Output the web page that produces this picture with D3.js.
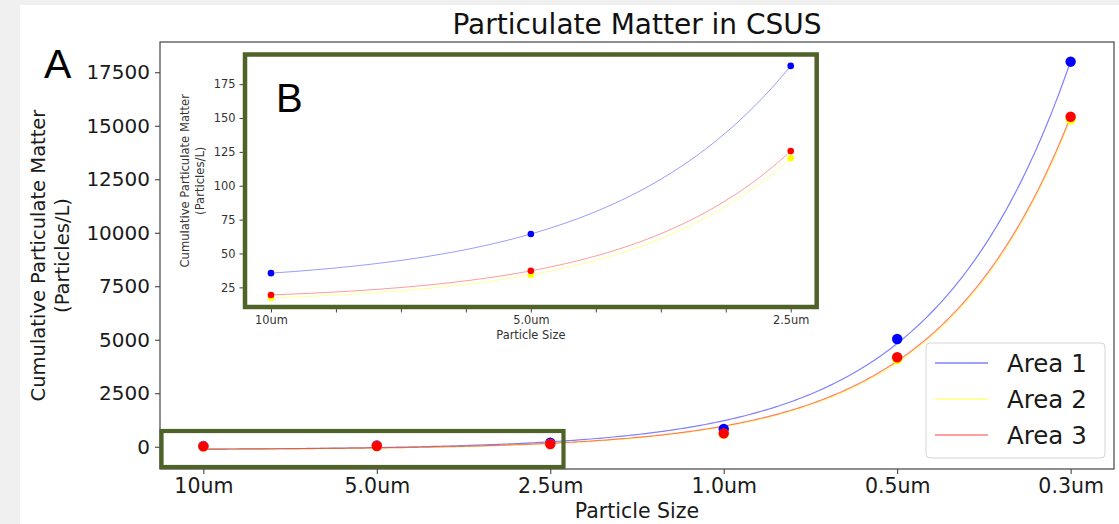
<!DOCTYPE html>
<html>
<head>
<meta charset="utf-8">
<script src="https://cdn.jsdelivr.net/npm/d3@7"></script>
<style>
  html, body { margin: 0; padding: 0; background: #f0f0f0; }
  svg { display: block; font-family: "DejaVu Sans", sans-serif; }
</style>
</head>
<body>
<svg id="chart" width="1119" height="524"></svg>
<script>
// Particle size bins (largest to smallest)
const categories = ["10um", "5.0um", "2.5um", "1.0um", "0.5um", "0.3um"];
// Cumulative particle counts per litre for each sampled area
const area1 = [35.5, 64.4, 188.5, 827, 5034, 17995];
const area2 = [17.2, 34.3, 120.4, 600, 4100, 15300];
const area3 = [19.4, 37.2, 125.6, 626, 4180, 15420];
const seriesNames = ["Area 1", "Area 2", "Area 3"];
const mainYTicks = [0, 2500, 5000, 7500, 10000, 12500, 15000, 17500];
const insetYTicks = [25, 50, 75, 100, 125, 150, 175];
const insetCount = 3; // zoomed view covers the three largest bins

const seriesColors = ["#0000ff", "#ffff00", "#ff0000"];
const seriesData = [area1, area2, area3];

// Least-squares fit of y = a*exp(b*x) + c
function fitExp(ys) {
  const xs = ys.map((_, i) => i);
  let best = null;
  for (let b = 0.2; b <= 3; b += 0.0005) {
    const E = xs.map(x => Math.exp(b * x));
    const mE = d3.mean(E), mY = d3.mean(ys);
    let sxy = 0, sxx = 0;
    for (let i = 0; i < xs.length; i++) {
      sxy += (E[i] - mE) * (ys[i] - mY);
      sxx += (E[i] - mE) * (E[i] - mE);
    }
    const a = sxy / sxx, c = mY - a * mE;
    let sse = 0;
    for (let i = 0; i < xs.length; i++) sse += (a * E[i] + c - ys[i]) ** 2;
    if (!best || sse < best.sse) best = { a, b, c, sse };
  }
  return x => best.a * Math.exp(best.b * x) + best.c;
}

function curvePoints(f, n) {
  return d3.range(0, 301).map(k => {
    const x = k / 300 * (n - 1);
    return [x, f(x)];
  });
}

const svg = d3.select("#chart");

// page panel
svg.append("rect").attr("x", 0).attr("y", 0).attr("width", 1119).attr("height", 524).attr("fill", "#f0f0f0");
svg.append("rect").attr("x", 20).attr("y", 5).attr("width", 1099).attr("height", 519).attr("fill", "#ffffff");

// ---------- main axes ----------
const M = { left: 160, right: 1114, top: 42, bottom: 469 };
const x = d3.scaleLinear().domain([-0.25, 5.25]).range([M.left, M.right]);
const y = d3.scaleLinear().domain([-1040, 18915]).range([M.bottom, M.top]);

const gMain = svg.append("g");

const yAxis = d3.axisLeft(y).tickValues(mainYTicks).tickSize(5).tickSizeOuter(0).tickPadding(5)
  .tickFormat(d3.format("d"));
const gy = gMain.append("g").attr("transform", `translate(${M.left},0)`).call(yAxis);
gy.select(".domain").remove();
gy.selectAll("text").attr("font-size", "20px").attr("fill", "#1a1a1a").attr("font-family", "DejaVu Sans");
gy.selectAll("line").attr("stroke", "#333");

const xAxis = d3.axisBottom(x).tickValues(d3.range(categories.length)).tickSize(5).tickSizeOuter(0).tickPadding(4)
  .tickFormat(i => categories[i]);
const gx = gMain.append("g").attr("transform", `translate(0,${M.bottom})`).call(xAxis);
gx.select(".domain").remove();
gx.selectAll("text").attr("font-size", "20.5px").attr("fill", "#1a1a1a").attr("font-family", "DejaVu Sans");
gx.selectAll("line").attr("stroke", "#333");

// fitted curves
const line = d3.line().x(d => x(d[0])).y(d => y(d[1]));
seriesData.forEach((vals, s) => {
  const f = fitExp(vals);
  gMain.append("path").datum(curvePoints(f, vals.length))
    .attr("d", line).attr("fill", "none")
    .attr("stroke", seriesColors[s]).attr("stroke-opacity", 0.5).attr("stroke-width", 1.2);
});
// measured points
seriesData.forEach((vals, s) => {
  gMain.append("g").selectAll("circle").data(vals).join("circle")
    .attr("cx", (d, i) => x(i)).attr("cy", d => y(d)).attr("r", 5.2)
    .attr("fill", seriesColors[s]);
});

// spines
gMain.append("rect").attr("x", M.left).attr("y", M.top)
  .attr("width", M.right - M.left).attr("height", M.bottom - M.top)
  .attr("fill", "none").attr("stroke", "#444").attr("stroke-width", 1.2);

// title and labels
svg.append("text").attr("x", (M.left + M.right) / 2).attr("y", 34).attr("text-anchor", "middle")
  .attr("font-size", "28px").attr("fill", "#111").text("Particulate Matter in CSUS");
svg.append("text").attr("x", (M.left + M.right) / 2).attr("y", 518).attr("text-anchor", "middle")
  .attr("font-size", "20.5px").attr("fill", "#1a1a1a").text("Particle Size");
const yl = svg.append("text").attr("transform", `translate(45,${(M.top + M.bottom) / 2}) rotate(-90)`)
  .attr("text-anchor", "middle").attr("font-size", "19.5px").attr("fill", "#1a1a1a");
yl.append("tspan").attr("x", 0).attr("y", 0).text("Cumulative Particulate Matter");
yl.append("tspan").attr("x", 0).attr("y", 23.5).text("(Particles/L)");

// legend
const lg = svg.append("g");
lg.append("rect").attr("x", 926).attr("y", 343).attr("width", 179).attr("height", 115).attr("rx", 4)
  .attr("fill", "#fff").attr("fill-opacity", 0.85).attr("stroke", "#d5d5d5").attr("stroke-width", 1);
seriesNames.forEach((name, i) => {
  const cy = 363 + i * 36;
  lg.append("line").attr("x1", 935).attr("x2", 988).attr("y1", cy).attr("y2", cy)
    .attr("stroke", seriesColors[i]).attr("stroke-opacity", 0.5).attr("stroke-width", 1.3);
  lg.append("text").attr("x", 1007).attr("y", cy + 9).attr("font-size", "24.5px").attr("fill", "#1a1a1a").text(name);
});

// highlighted region of the main axes that the inset enlarges
svg.append("rect").attr("x", 161.5).attr("y", 431).attr("width", 402).attr("height", 36)
  .attr("fill", "none").attr("stroke", "#4f6228").attr("stroke-width", 4.2);

// ---------- inset axes ----------
const I = { left: 245, right: 816.7, top: 54.5, bottom: 307 };
const xi = d3.scaleLinear().domain([-0.1, 2.1]).range([I.left, I.right]);
const yi = d3.scaleLinear().domain([10.5, 196.9]).range([I.bottom, I.top]);
const gIn = svg.append("g");
gIn.append("rect").attr("x", I.left).attr("y", I.top).attr("width", I.right - I.left).attr("height", I.bottom - I.top)
  .attr("fill", "#fff");

const yiAxis = d3.axisLeft(yi).tickValues(insetYTicks).tickSize(3.5).tickSizeOuter(0).tickPadding(4);
const gyi = gIn.append("g").attr("transform", `translate(${I.left - 2},0)`).call(yiAxis);
gyi.select(".domain").remove();
gyi.selectAll("text").attr("font-size", "11.4px").attr("fill", "#333").attr("font-family", "DejaVu Sans");
gyi.selectAll("line").attr("stroke", "#444");

const xiAxis = d3.axisBottom(xi).tickValues(d3.range(0, insetCount - 1 + 0.001, 0.25)).tickSize(3.5).tickSizeOuter(0).tickPadding(3)
  .tickFormat(v => Number.isInteger(v) ? categories[v] : "");
const gxi = gIn.append("g").attr("transform", `translate(0,${I.bottom + 2})`).call(xiAxis);
gxi.select(".domain").remove();
gxi.selectAll("text").attr("font-size", "11.4px").attr("fill", "#333").attr("font-family", "DejaVu Sans");
gxi.selectAll("line").attr("stroke", "#444");

const linei = d3.line().x(d => xi(d[0])).y(d => yi(d[1]));
seriesData.forEach((vals, s) => {
  const sub = vals.slice(0, insetCount);
  const f = fitExp(sub);
  gIn.append("path").datum(curvePoints(f, sub.length))
    .attr("d", linei).attr("fill", "none")
    .attr("stroke", seriesColors[s]).attr("stroke-opacity", 0.4).attr("stroke-width", 1);
});
seriesData.forEach((vals, s) => {
  gIn.append("g").selectAll("circle").data(vals.slice(0, insetCount)).join("circle")
    .attr("cx", (d, i) => xi(i)).attr("cy", d => yi(d)).attr("r", 3.3)
    .attr("fill", seriesColors[s]);
});

gIn.append("text").attr("x", (I.left + I.right) / 2).attr("y", 339).attr("text-anchor", "middle")
  .attr("font-size", "11.4px").attr("fill", "#333").text("Particle Size");
const yli = gIn.append("text").attr("transform", `translate(189,${(I.top + I.bottom) / 2}) rotate(-90)`)
  .attr("text-anchor", "middle").attr("font-size", "11.6px").attr("fill", "#333");
yli.append("tspan").attr("x", 0).attr("y", 0).text("Cumulative Particulate Matter");
yli.append("tspan").attr("x", 0).attr("y", 14.5).text("(Particles/L)");

gIn.append("rect").attr("x", I.left).attr("y", I.top).attr("width", I.right - I.left).attr("height", I.bottom - I.top)
  .attr("fill", "none").attr("stroke", "#4f6228").attr("stroke-width", 4.5);

// panel letters
svg.append("text").attr("x", 44).attr("y", 78).attr("font-family", "Liberation Sans, Arial, sans-serif")
  .attr("font-size", "41px").attr("fill", "#000").text("A");
svg.append("text").attr("x", 276).attr("y", 112).attr("font-family", "Liberation Sans, Arial, sans-serif")
  .attr("font-size", "40px").attr("fill", "#000").text("B");
</script>
</body>
</html>
